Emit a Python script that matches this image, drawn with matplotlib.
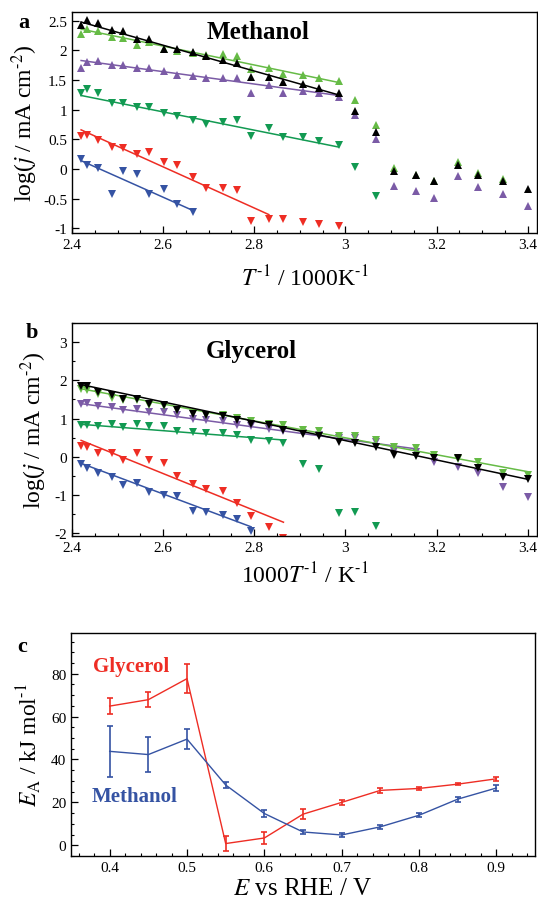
import numpy as np
import matplotlib
matplotlib.use('Agg')
import matplotlib.pyplot as plt
from matplotlib.ticker import MultipleLocator

plt.rcParams['font.family'] = 'serif'
plt.rcParams['font.serif'] = ['Liberation Serif', 'DejaVu Serif']
plt.rcParams['mathtext.fontset'] = 'stix'

# shared inverse temperature axis (1000/T)
inv_t = [2.420, 2.434, 2.456, 2.487, 2.511, 2.542, 2.569, 2.602, 2.631, 2.665,
         2.694, 2.731, 2.762, 2.793, 2.832, 2.864, 2.906, 2.941, 2.985, 3.020,
         3.067, 3.106, 3.155, 3.194, 3.247, 3.290, 3.345, 3.401]
nan = np.nan

# panel a: methanol
meoh_black = [2.43, 2.52, 2.46, 2.34, 2.32, 2.19, 2.20, 2.03, 2.02, 1.97, 1.90, 1.84, 1.78, 1.56,
              1.56, 1.46, 1.43, 1.36, 1.29, 0.98, 0.62, -0.03, -0.10, -0.20, 0.06, -0.11, -0.21, -0.34]
meoh_lgreen = [2.28, 2.37, 2.33, 2.23, 2.21, 2.10, 2.15, 2.02, 1.99, 1.96, 1.92, 1.94, 1.90, 1.69,
               1.71, 1.60, 1.59, 1.53, 1.48, 1.16, 0.75, 0.02, -0.10, -0.20, 0.11, -0.07, -0.17, nan]
meoh_purple = [1.71, 1.81, 1.83, 1.76, 1.75, 1.70, 1.71, 1.66, 1.58, 1.57, 1.53, 1.53, 1.54, 1.29,
               1.42, 1.28, 1.32, 1.28, 1.22, 0.91, 0.51, -0.29, -0.38, -0.49, -0.12, -0.31, -0.42, -0.63]
meoh_dgreen = [1.28, 1.35, 1.28, 1.12, 1.11, 1.04, 1.04, 0.94, 0.89, 0.83, 0.76, 0.80, 0.83, 0.55,
               0.69, 0.54, 0.54, 0.47, 0.40, 0.04, -0.45]
meoh_red = [0.55, 0.58, 0.49, 0.37, 0.35, 0.25, 0.29, 0.12, 0.06, -0.13, -0.32, -0.32, -0.35, -0.87,
            -0.84, -0.84, -0.89, -0.93, -0.96]
meoh_blue = [0.16, 0.06, 0.01, -0.42, -0.04, -0.08, -0.43, -0.34, -0.59, -0.73]

# fit lines: (x start, x end, y start, y end)
meoh_fits = {
    'black': (2.42, 2.985, 2.48, 1.25),
    'lgreen': (2.42, 2.985, 2.36, 1.46),
    'purple': (2.42, 2.985, 1.83, 1.24),
    'dgreen': (2.42, 2.985, 1.24, 0.37),
    'red': (2.42, 2.832, 0.66, -0.77),
    'blue': (2.42, 2.665, 0.14, -0.70),
}

# panel b: glycerol
gly_black = [1.85, 1.85, 1.70, 1.61, 1.50, 1.52, 1.37, 1.35, 1.22, 1.13, 1.09, 1.06, 0.96, 0.87,
             0.84, 0.71, 0.59, 0.55, 0.39, 0.37, 0.26, 0.04, 0.03, -0.04, -0.03, -0.30, -0.52, -0.57]
gly_lgreen = [1.77, 1.74, 1.63, 1.55, 1.48, 1.48, 1.35, 1.33, 1.23, 1.15, 1.10, 1.09, 1.02, 0.93,
              0.87, 0.83, 0.70, 0.68, 0.55, 0.54, 0.45, 0.26, 0.24, 0.06, -0.06, -0.13, -0.42, -0.48]
gly_purple = [1.39, 1.42, 1.33, 1.30, 1.22, 1.26, 1.17, 1.16, 1.09, 1.00, 0.96, 0.93, 0.84, 0.80,
              0.74, 0.67, 0.61, 0.57, 0.48, 0.48, 0.39, 0.15, 0.13, -0.13, -0.26, -0.43, -0.78, -1.06]
gly_dgreen = [0.83, 0.83, 0.81, 0.85, 0.78, 0.87, 0.80, 0.80, 0.68, 0.65, 0.63, 0.63, 0.57, 0.45,
              0.42, 0.37, -0.20, -0.33, -1.48, -1.43, -1.81]
gly_red = [0.28, 0.26, 0.11, 0.09, -0.09, 0.11, -0.09, -0.17, -0.50, -0.71, -0.83, -0.90, -1.20,
           -1.55, -1.83, -2.11]
gly_blue = [-0.20, -0.28, -0.42, -0.52, -0.74, -0.68, -0.91, -1.00, -1.03, -1.41, -1.43, -1.52,
            -1.63, -1.93]

gly_fits = {
    'black': (2.42, 3.401, 1.89, -0.59),
    'lgreen': (2.42, 3.401, 1.78, -0.39),
    'purple': (2.42, 3.16, 1.39, 0.20),
    'dgreen': (2.42, 2.864, 0.85, 0.44),
    'red': (2.42, 2.864, 0.43, -1.71),
    'blue': (2.42, 2.793, -0.17, -1.83),
}

# panel c: activation energies
potential = [0.40, 0.45, 0.50, 0.55, 0.60, 0.65, 0.70, 0.75, 0.80, 0.85, 0.90]
ea_glycerol = [64.9, 67.9, 77.7, 0.8, 3.4, 14.5, 20.0, 25.6, 26.5, 28.5, 31.0]
ea_glycerol_err = [3.8, 3.5, 6.9, 3.6, 2.6, 2.2, 1.2, 1.0, 0.8, 0.6, 0.8]
ea_methanol = [43.8, 42.3, 49.5, 28.1, 14.8, 6.2, 4.8, 8.6, 14.0, 21.5, 26.7]
ea_methanol_err = [11.8, 8.2, 4.5, 1.5, 1.5, 1.0, 1.0, 1.0, 1.0, 1.2, 1.2]

colors = {'black': '#000000', 'lgreen': '#66bb46', 'purple': '#7b5ba6',
          'dgreen': '#129a52', 'red': '#ee2d24', 'blue': '#3553a3'}

HY = '\u2010'  # plain hyphen in superscripts, like the original


def draw_series(ax, series, fits, markers):
    for key in ['blue', 'red', 'dgreen', 'purple', 'lgreen', 'black']:
        y = series[key]
        ax.plot(inv_t[:len(y)], y, linestyle='none', marker=markers[key],
                color=colors[key], markersize=5.8, markeredgewidth=0)
        x0, x1, y0, y1 = fits[key]
        ax.plot([x0, x1], [y0, y1], color=colors[key], linewidth=1.1)


def style_axes(ax):
    ax.tick_params(which='both', direction='in', top=False, right=False, labelsize=11)
    ax.tick_params(which='major', length=5, width=0.9)
    ax.tick_params(which='minor', length=2.5, width=0.8)
    for s in ax.spines.values():
        s.set_linewidth(1.0)


fig = plt.figure(figsize=(5.38, 9.04), dpi=100)
ax1 = fig.add_axes([0.1338, 0.7412, 0.864, 0.2445])
ax2 = fig.add_axes([0.1338, 0.4060, 0.864, 0.2356])
ax3 = fig.add_axes([0.1320, 0.0520, 0.8625, 0.2467])

fmt = plt.FuncFormatter(lambda v, p: f'{v:g}')

# panel a
draw_series(ax1,
            {'black': meoh_black, 'lgreen': meoh_lgreen, 'purple': meoh_purple,
             'dgreen': meoh_dgreen, 'red': meoh_red, 'blue': meoh_blue},
            meoh_fits,
            {'black': '^', 'lgreen': '^', 'purple': '^', 'dgreen': 'v', 'red': 'v', 'blue': 'v'})
ax1.set_xlim(2.4, 3.42)
ax1.set_ylim(-1.08, 2.65)
ax1.xaxis.set_major_locator(MultipleLocator(0.2))
ax1.xaxis.set_minor_locator(MultipleLocator(0.05))
ax1.yaxis.set_major_locator(MultipleLocator(0.5))
ax1.yaxis.set_major_formatter(fmt)
ax1.xaxis.set_major_formatter(fmt)
style_axes(ax1)
ax1.set_xlabel(r'$T^{' + HY + r'1}$ / 1000K$^{' + HY + r'1}$', fontsize=17, labelpad=10)
ax1.set_ylabel(r'log($j$ / mA cm$^{' + HY + r'2}$)', fontsize=17, labelpad=2)
ax1.text(0.40, 0.91, 'Methanol', transform=ax1.transAxes, ha='center', va='center',
         fontsize=18, fontweight='bold')
fig.text(0.045, 0.975, 'a', fontsize=16, fontweight='bold', ha='center', va='center')

# panel b
draw_series(ax2,
            {'black': gly_black, 'lgreen': gly_lgreen, 'purple': gly_purple,
             'dgreen': gly_dgreen, 'red': gly_red, 'blue': gly_blue},
            gly_fits,
            {'black': 'v', 'lgreen': 'v', 'purple': 'v', 'dgreen': 'v', 'red': 'v', 'blue': 'v'})
ax2.set_xlim(2.4, 3.42)
ax2.set_ylim(-2.07, 3.5)
ax2.xaxis.set_major_locator(MultipleLocator(0.2))
ax2.xaxis.set_minor_locator(MultipleLocator(0.05))
ax2.yaxis.set_major_locator(MultipleLocator(1))
ax2.yaxis.set_minor_locator(MultipleLocator(0.5))
ax2.xaxis.set_major_formatter(fmt)
ax2.yaxis.set_major_formatter(fmt)
style_axes(ax2)
ax2.set_xlabel(r'1000$T^{' + HY + r'1}$ / K$^{' + HY + r'1}$', fontsize=17, labelpad=6)
ax2.set_ylabel(r'log($j$ / mA cm$^{' + HY + r'2}$)', fontsize=17, labelpad=4)
ax2.text(0.385, 0.87, 'Glycerol', transform=ax2.transAxes, ha='center', va='center',
         fontsize=18, fontweight='bold')
fig.text(0.059, 0.632, 'b', fontsize=16, fontweight='bold', ha='center', va='center')

# panel c
ax3.errorbar(potential, ea_glycerol, yerr=ea_glycerol_err, color=colors['red'],
             linewidth=1.0, elinewidth=1.2, capsize=2.5, capthick=1.2)
ax3.errorbar(potential, ea_methanol, yerr=ea_methanol_err, color=colors['blue'],
             linewidth=1.0, elinewidth=1.2, capsize=2.5, capthick=1.2)
ax3.set_xlim(0.35, 0.95)
ax3.set_ylim(-5, 99)
ax3.xaxis.set_major_locator(MultipleLocator(0.1))
ax3.xaxis.set_minor_locator(MultipleLocator(0.02))
ax3.yaxis.set_major_locator(MultipleLocator(20))
ax3.yaxis.set_minor_locator(MultipleLocator(5))
ax3.xaxis.set_major_formatter(fmt)
style_axes(ax3)
ax3.set_xlabel(r'$E$ vs RHE / V', fontsize=18, labelpad=2)
ax3.set_ylabel(r'$E_\mathrm{A}$ / kJ mol$^{' + HY + r'1}$', fontsize=17, labelpad=6)
ax3.text(0.428, 83.5, 'Glycerol', color=colors['red'], ha='center', va='center',
         fontsize=15, fontweight='bold')
ax3.text(0.432, 23, 'Methanol', color=colors['blue'], ha='center', va='center',
         fontsize=15, fontweight='bold')
fig.text(0.042, 0.284, 'c', fontsize=16, fontweight='bold', ha='center', va='center')

fig.savefig('out.png', dpi=100)
